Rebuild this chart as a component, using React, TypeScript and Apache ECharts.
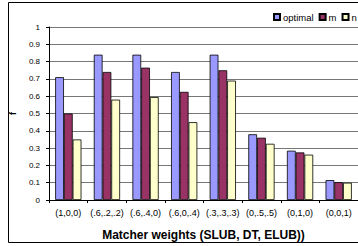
import React, { useEffect, useRef } from "react";
import * as echarts from "echarts";

const categories = ["(1,0,0)", "(.6,.2,.2)", "(.6,.4,0)", "(.6,0,.4)", "(.3,.3,.3)", "(0,.5,.5)", "(0,1,0)", "(0,0,1)"];
const optimalValues = [0.71, 0.84, 0.84, 0.74, 0.84, 0.38, 0.285, 0.115];
const mValues = [0.5, 0.74, 0.765, 0.625, 0.75, 0.36, 0.275, 0.103];
const nValues = [0.35, 0.58, 0.595, 0.45, 0.69, 0.325, 0.262, 0.1];
const seriesNames = ["optimal", "m", "n"];
const yTicks = [0, 0.1, 0.2, 0.3, 0.4, 0.5, 0.6, 0.7, 0.8, 0.9, 1];

export default function App() {
  const ref = useRef<HTMLDivElement>(null);
  useEffect(() => {
    document.body.style.margin = "0";
    document.body.style.overflow = "hidden";
    const chart = echarts.init(ref.current!, null, { renderer: "svg" });
    const font = "'Liberation Sans', Arial, sans-serif";
    const colors = ["#9999FF", "#993366", "#FFFFCC"];
    const data = [optimalValues, mValues, nValues];
    chart.setOption({
      animation: false,
      textStyle: { fontFamily: font },
      graphic: [
        {
          type: "rect",
          shape: { x: 8.5, y: 2.5, width: 400, height: 240 },
          style: { fill: "none", stroke: "#000", lineWidth: 1 },
          z: 100,
        },
      ],
      legend: {
        left: 273,
        top: 12,
        padding: 0,
        width: 300,
        orient: "horizontal",
        itemWidth: 6,
        itemHeight: 6,
        itemGap: 5,
        icon: "rect",
        textStyle: { fontSize: 9.5, fontFamily: font, color: "#000", padding: [0, 0, 0, -2] },
        data: seriesNames,
      },
      grid: { left: 47, top: 27, right: -5, bottom: 44 },
      xAxis: {
        type: "category",
        data: categories,
        name: "Matcher weights (SLUB, DT, ELUB))",
        nameLocation: "middle",
        nameGap: 29,
        nameTextStyle: { fontSize: 12, fontWeight: "bold", color: "#000", fontFamily: font },
        axisLine: { lineStyle: { color: "#000", width: 1 } },
        axisTick: { show: true, length: 3, lineStyle: { color: "#000" } },
        axisLabel: { fontSize: 9, color: "#000", margin: 8, interval: 0, fontFamily: font },
      },
      yAxis: {
        type: "value",
        min: 0,
        max: 1,
        interval: 0.1,
        name: "f",
        nameLocation: "middle",
        nameGap: 32,
        nameRotate: 90,
        nameTextStyle: { fontSize: 9, fontWeight: "bold", color: "#000", fontFamily: font },
        axisLine: { show: true, lineStyle: { color: "#000", width: 1 } },
        axisTick: { show: true, length: 3, lineStyle: { color: "#000" } },
        axisLabel: {
          fontSize: 8,
          color: "#000",
          margin: 9,
          fontFamily: font,
          formatter: (v: number) => {
            const t = yTicks.find((x) => Math.abs(x - v) < 1e-6);
            return t === undefined ? "" : String(t);
          },
        },
        splitLine: { show: true, lineStyle: { color: "#777", width: 1 } },
      },
      series: seriesNames.map((name, i) => ({
        name,
        type: "bar",
        data: data[i],
        barGap: "0%",
        barCategoryGap: "32%",
        itemStyle: { color: colors[i], borderColor: "#000", borderWidth: 0.8 },
      })),
    });
    return () => chart.dispose();
  }, []);
  return <div ref={ref} style={{ width: 358, height: 246, position: "absolute", left: 0, top: 0 }} />;
}
